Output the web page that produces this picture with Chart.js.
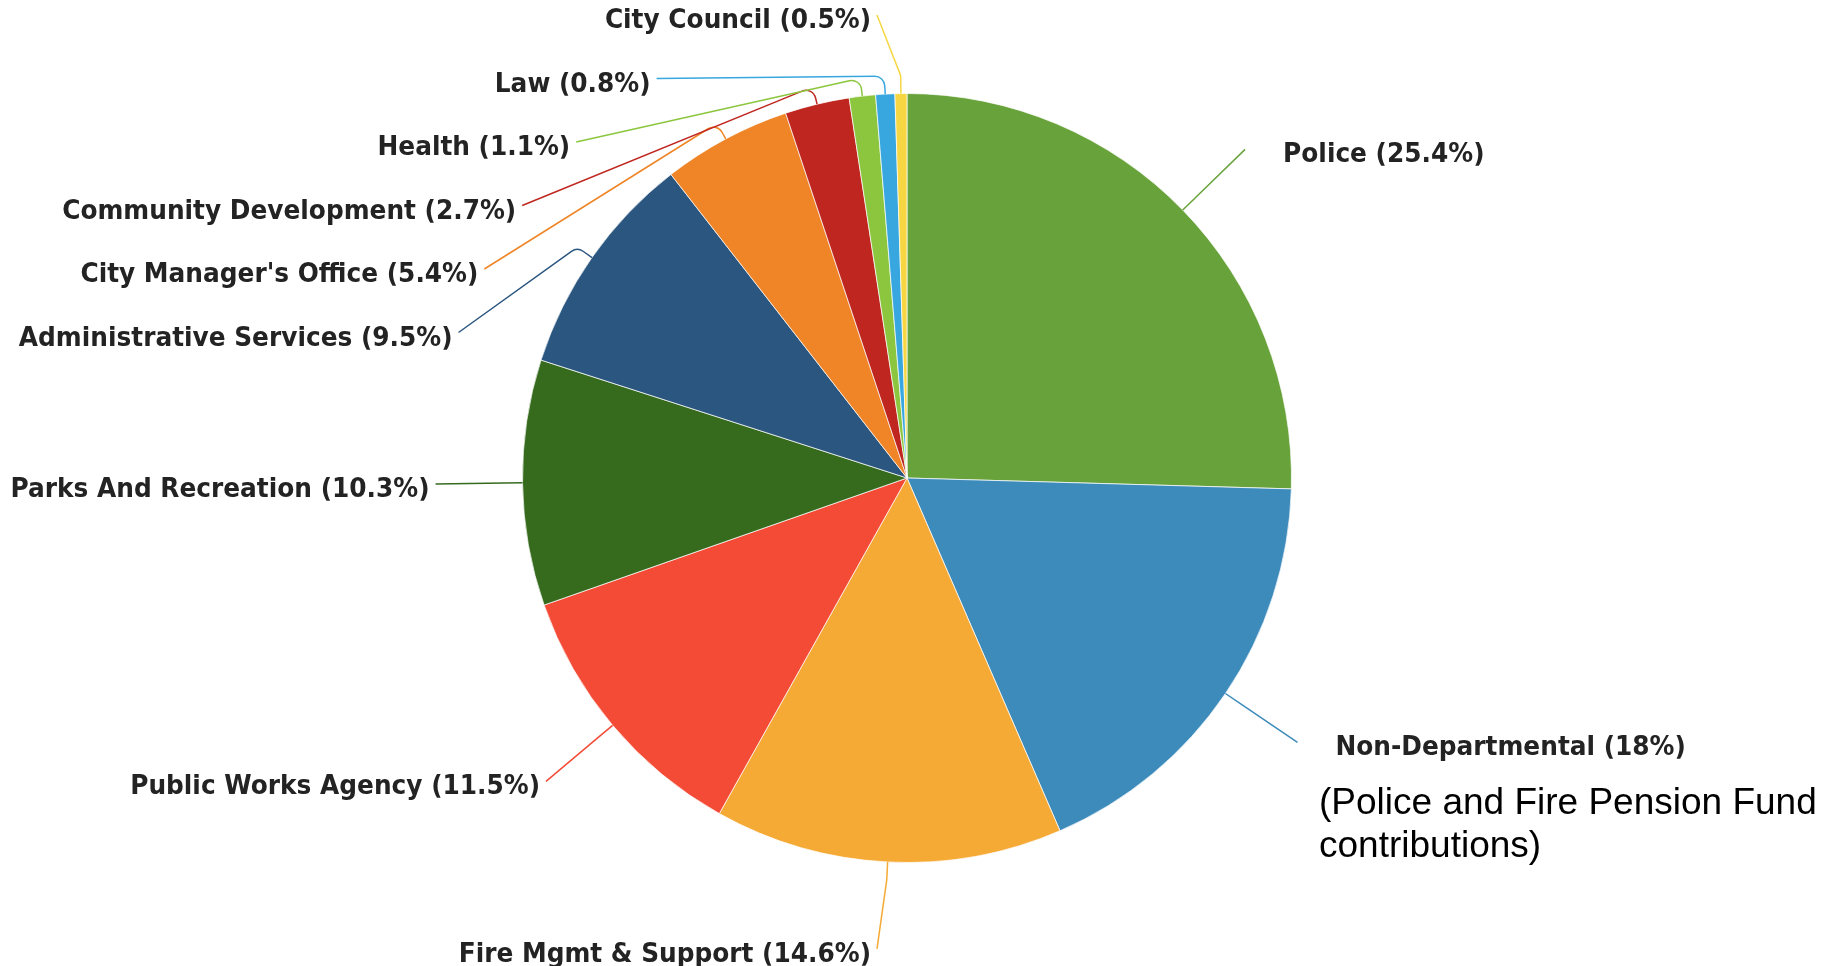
<!DOCTYPE html>
<html>
<head>
<meta charset="utf-8">
<script src="https://cdn.jsdelivr.net/npm/chart.js@4.4.0/dist/chart.umd.min.js"></script>
<style>
  html, body { margin: 0; padding: 0; background: #fff; overflow: hidden; }
  #wrap { position: relative; width: 1822px; height: 966px; }
  #note {
    position: absolute; left: 1319px; top: 780px;
    font: 37px "Liberation Sans", Arial, sans-serif; line-height: 43px;
    color: #000; white-space: nowrap;
  }
</style>
</head>
<body>
<div id="wrap">
  <canvas id="budget-pie"></canvas>
  <div id="note">(Police and Fire Pension Fund<br>contributions)</div>
</div>
<script>
const departments = [
    'Police', 'Non-Departmental', 'Fire Mgmt & Support', 'Public Works Agency',
    'Parks And Recreation', 'Administrative Services', "City Manager's Office",
    'Community Development', 'Health', 'Law', 'City Council'
];
const shares = [25.4, 18, 14.6, 11.5, 10.3, 9.5, 5.4, 2.7, 1.1, 0.8, 0.5];
const sliceColors = [
    '#68a23a', '#3d8bbb', '#f6aa36', '#f44b36', '#366b1e', '#2b567f',
    '#ef8526', '#bf2620', '#8cc63f', '#39a7df', '#f6d743'
];

// labels outside the pie, pushed apart on each side, with a bent leader line
const outsideLabels = {
    id: 'outsideLabels',
    afterDatasetsDraw(chart) {
        const ctx = chart.ctx;
        const arcs = chart.getDatasetMeta(0).data;
        const ring = 87, crook = 18, step = 63.5, topY = 15;
        const cx = arcs[0].x, cy = arcs[0].y, r = arcs[0].outerRadius;
        const R2 = r + ring;

        let items = arcs.map((arc, i) => {
            const mid = (arc.startAngle + arc.endAngle) / 2;
            return { i, mid, left: Math.cos(mid) < 0, natY: cy + Math.sin(mid) * R2 };
        });

        [true, false].forEach(side => {
            let group = items.filter(it => it.left === side).sort((a, b) => a.natY - b.natY);
            let prev = -Infinity;
            group.forEach(it => {
                it.y = Math.max(it.natY, prev + step, topY);
                prev = it.y;
                // near the very top / bottom keep the natural position for x
                const useY = (it.y < cy - R2 + 20 || it.y > cy + R2 - 20) ? it.natY : it.y;
                const dy = Math.min(Math.abs(useY - cy), R2);
                let dx = Math.max(Math.sqrt(R2 * R2 - dy * dy), 30);
                it.x = cx + (it.left ? -dx : dx);
            });
        });

        ctx.save();
        items.forEach(it => {
            const ex = cx + Math.cos(it.mid) * r, ey = cy + Math.sin(it.mid) * r;
            const bx = cx + Math.cos(it.mid) * (r + crook), by = cy + Math.sin(it.mid) * (r + crook);
            ctx.strokeStyle = sliceColors[it.i];
            ctx.lineWidth = 1.5;
            ctx.beginPath();
            ctx.moveTo(ex, ey);
            ctx.arcTo(bx, by, it.x, it.y, 10);
            ctx.lineTo(it.x, it.y);
            ctx.stroke();

            const text = `${departments[it.i]} (${shares[it.i]}%)`;
            ctx.save();
            ctx.translate(it.left ? it.x - 6 : it.x + 38, it.y + 6);
            ctx.scale(0.92, 1); // slightly narrow face like the original
            ctx.font = 'bold 27px "DejaVu Sans"';
            ctx.fillStyle = '#232323';
            ctx.textBaseline = 'middle';
            ctx.textAlign = it.left ? 'right' : 'left';
            ctx.fillText(text, 0, 0);
            ctx.restore();
        });
        ctx.restore();
    }
};

const budgetPie = new Chart(document.getElementById('budget-pie'), {
    type: 'pie',
    data: {
        labels: departments,
        datasets: [{
            data: shares,
            backgroundColor: sliceColors,
            borderColor: 'rgba(255,255,255,0.7)',
            borderWidth: 1
        }]
    },
    options: {
        responsive: true,
        maintainAspectRatio: false,
        animation: false,
        layout: { padding: { left: 522, right: 530, top: 93, bottom: 103 } },
        plugins: {
            legend: { display: false },
            tooltip: { enabled: false }
        }
    },
    plugins: [outsideLabels]
});
</script>
</body>
</html>
